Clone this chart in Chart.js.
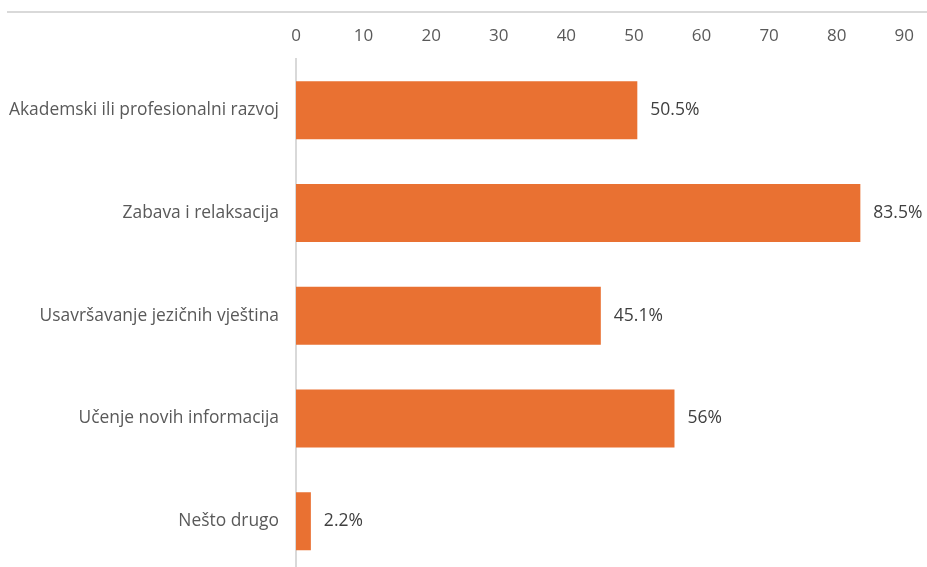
<!DOCTYPE html>
<html>
<head>
<meta charset="utf-8">
<script src="https://cdn.jsdelivr.net/npm/chart.js@4"></script>
<style>
  html, body { margin: 0; padding: 0; background: #fff; overflow: hidden; }
  #wrap { position: relative; width: 927px; height: 567px; overflow: hidden; }
  #topLine { position: absolute; top: 11px; left: 7px; right: 0; height: 2px; background: #d9d9d9; }
  #chartBox { position: absolute; top: 0; left: 0; width: 927px; height: 600px; }
</style>
</head>
<body>
<div id="wrap">
  <div id="topLine"></div>
  <div id="chartBox"><canvas id="barChart"></canvas></div>
</div>
<script>
// podaci
const kategorije = [
  "Akademski ili profesionalni razvoj",
  "Zabava i relaksacija",
  "Usavršavanje jezičnih vještina",
  "Učenje novih informacija",
  "Nešto drugo"
];
const vrijednosti = [50.5, 83.5, 45.1, 56, 2.2];
const oznake = ["50.5%", "83.5%", "45.1%", "56%", "2.2%"];
const osMax = 90;
const osKorak = 10;

const fontName = "'Open Sans', 'Liberation Sans', sans-serif";

// ispis postotaka desno od stupaca
const valueLabels = {
  id: "valueLabels",
  afterDatasetsDraw(chart) {
    const ctx = chart.ctx;
    const meta = chart.getDatasetMeta(0);
    ctx.save();
    ctx.font = "17.5px " + fontName;
    ctx.fillStyle = "#404040";
    ctx.textAlign = "left";
    ctx.textBaseline = "middle";
    meta.data.forEach(function(bar, i) {
      ctx.fillText(oznake[i], bar.x + 13, bar.y);
    });
    ctx.restore();
  }
};

new Chart(document.getElementById("barChart"), {
  type: "bar",
  data: {
    labels: kategorije,
    datasets: [{
      data: vrijednosti,
      backgroundColor: "#E97132",
      categoryPercentage: 1,
      barPercentage: 0.565
    }]
  },
  options: {
    indexAxis: "y",
    responsive: true,
    maintainAspectRatio: false,
    animation: false,
    layout: { padding: { left: 0, right: 21, top: 0, bottom: 0 } },
    plugins: {
      legend: { display: false },
      tooltip: { enabled: false }
    },
    scales: {
      x: {
        position: "top",
        min: 0,
        max: osMax,
        grid: { display: false, drawTicks: false },
        border: { display: false },
        ticks: {
          stepSize: osKorak,
          padding: 13,
          color: "#595959",
          font: { family: fontName, size: 17 }
        },
        afterFit(scale) { scale.height = 59; }
      },
      y: {
        grid: { display: false, drawTicks: false },
        border: { display: true, color: "#d9d9d9", width: 2 },
        ticks: {
          padding: 17,
          color: "#595959",
          font: { family: fontName, size: 17.4 }
        },
        afterFit(scale) { scale.width = 296; }
      }
    }
  },
  plugins: [valueLabels]
});
</script>
</body>
</html>
